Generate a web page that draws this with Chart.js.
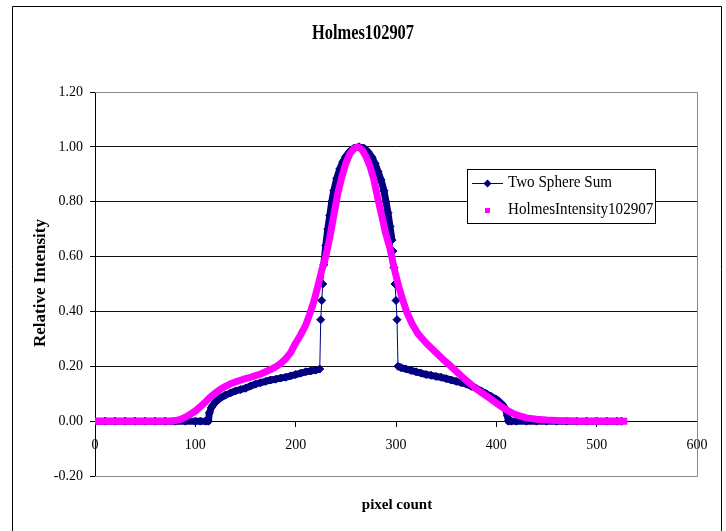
<!DOCTYPE html>
<html>
<head>
<meta charset="utf-8">
<title>Holmes102907</title>
<script src="https://cdn.jsdelivr.net/npm/chart.js@4.4.1/dist/chart.umd.min.js"></script>
<style>
    html, body { margin: 0; padding: 0; background: #fff; }
    #wrap { width: 726px; height: 531px; }
</style>
</head>
<body>
<div id="wrap"><canvas id="holmesChart" width="726" height="531"></canvas></div>
<script>
// values
const sumX = [0, 10, 20, 30, 40, 50, 60, 70, 80, 90, 100, 105, 110, 113, 114, 116, 118, 120, 125, 130,
    135, 140, 145, 150, 155, 160, 165, 170, 175, 180, 185, 190, 195, 200, 205, 210, 215, 220, 224, 225,
    226, 227, 228, 230, 232, 234, 236, 238, 241, 244, 247, 250, 254, 258, 263, 268, 272, 276, 279, 282,
    285, 288, 290, 292, 294, 296, 297, 298, 299, 300, 301, 302, 305, 310, 315, 320, 325, 330, 335, 340,
    345, 350, 355, 360, 365, 370, 375, 380, 385, 390, 395, 400, 403, 406, 409, 411, 412, 415, 420, 430,
    440, 450, 460, 470, 480, 490, 500, 510, 520, 525];
const sumY = [0, 0, 0, 0, 0, 0, 0, 0, 0, 0, 0, 0, 0, 0, 0.03, 0.05, 0.06, 0.07, 0.085, 0.095,
    0.103, 0.11, 0.115, 0.12, 0.128, 0.135, 0.14, 0.145, 0.15, 0.153, 0.157, 0.16, 0.165, 0.17, 0.175, 0.18, 0.183, 0.186, 0.19, 0.37,
    0.44, 0.50, 0.57, 0.64, 0.70, 0.75, 0.80, 0.84, 0.885, 0.92, 0.945, 0.965, 0.983, 0.995, 1.0, 0.995, 0.982, 0.962, 0.94, 0.91,
    0.88, 0.84, 0.80, 0.76, 0.71, 0.66, 0.62, 0.56, 0.50, 0.44, 0.37, 0.20, 0.195, 0.19, 0.185, 0.18, 0.175, 0.17, 0.167, 0.163,
    0.16, 0.155, 0.15, 0.145, 0.14, 0.135, 0.127, 0.12, 0.11, 0.10, 0.09, 0.08, 0.07, 0.06, 0.045, 0.02, 0, 0, 0, 0,
    0, 0, 0, 0, 0, 0, 0, 0, 0, 0];

const intX = [0, 10, 20, 30, 40, 50, 60, 70, 75, 80, 85, 90, 95, 100, 105, 110, 115, 120, 125, 130,
    135, 140, 145, 150, 155, 160, 165, 170, 175, 180, 185, 190, 195, 200, 205, 210, 214, 218, 222, 226,
    230, 234, 238, 242, 246, 250, 254, 258, 262, 266, 270, 274, 278, 282, 286, 290, 294, 298, 302, 306,
    311, 316, 322, 330, 339, 346, 354, 362, 370, 375, 380, 385, 390, 395, 400, 405, 410, 415, 420, 425,
    430, 440, 450, 460, 470, 480, 490, 500, 510, 520, 527];
const intY = [0, 0, 0, 0, 0, 0, 0, 0, 0, 0.002, 0.006, 0.014, 0.025, 0.037, 0.053, 0.07, 0.088, 0.103, 0.116, 0.127,
    0.136, 0.143, 0.149, 0.155, 0.16, 0.166, 0.172, 0.18, 0.188, 0.198, 0.21, 0.227, 0.25, 0.285, 0.315, 0.35, 0.39, 0.435, 0.49, 0.55,
    0.60, 0.67, 0.75, 0.83, 0.89, 0.94, 0.975, 0.993, 1.0, 0.99, 0.965, 0.93, 0.88, 0.81, 0.745, 0.68, 0.63, 0.56, 0.50, 0.45,
    0.395, 0.355, 0.318, 0.285, 0.253, 0.228, 0.202, 0.175, 0.148, 0.133, 0.118, 0.105, 0.092, 0.079, 0.066, 0.053, 0.041, 0.031, 0.023, 0.017,
    0.012, 0.007, 0.004, 0.002, 0.001, 0, 0, 0, 0, 0, 0];

const xTickValues = [0, 100, 200, 300, 400, 500, 600];
const yTickValues = [-0.2, 0, 0.2, 0.4, 0.6, 0.8, 1.0, 1.2];
const yTickLabels = ['-0.20', '0.00', '0.20', '0.40', '0.60', '0.80', '1.00', '1.20'];

const SERIF = "'Liberation Serif', 'Times New Roman', serif";
const NAVY = '#000080';
const PINK = '#FF00FF';

function text(ctx, str, x, y, font, sx = 1, rot = 0, align = 'center') {
    ctx.save();
    ctx.translate(x, y);
    if (rot) ctx.rotate(rot);
    ctx.scale(sx, 1);
    ctx.font = font;
    ctx.fillStyle = '#000';
    ctx.textAlign = align;
    ctx.textBaseline = 'middle';
    ctx.fillText(str, 0, 0);
    ctx.restore();
}

const framePlugin = {
    id: 'frame',
    beforeDraw(chart) {
        const c = chart.ctx;
        c.save();
        c.fillStyle = '#fff';
        c.fillRect(0, 0, chart.width, chart.height);
        c.strokeStyle = '#000';
        c.lineWidth = 1;
        c.beginPath();
        c.moveTo(12.5, 540);
        c.lineTo(12.5, 6.5);
        c.lineTo(721.5, 6.5);
        c.lineTo(721.5, 540);
        c.stroke();
        c.restore();
    },
    beforeDatasetsDraw(chart) {
        const { ctx: c, chartArea: a } = chart;
        c.save();
        c.strokeStyle = '#888';
        c.lineWidth = 1;
        c.beginPath();
        c.moveTo(a.left, a.top + 0.5);
        c.lineTo(a.right + 0.5, a.top + 0.5);
        c.lineTo(a.right + 0.5, a.bottom + 0.5);
        c.lineTo(a.left, a.bottom + 0.5);
        c.stroke();
        c.restore();
    },
    afterDraw(chart) {
        const c = chart.ctx;
        text(c, 'Holmes102907', 363, 34, 'bold 20px ' + SERIF, 0.82);
        text(c, 'Relative Intensity', 41, 283, 'bold 17px ' + SERIF, 1, -Math.PI / 2);
        text(c, 'pixel count', 397, 505, 'bold 15px ' + SERIF);

        // legend box
        const lx = 467, ly = 169, lw = 188, lh = 54;
        c.save();
        c.fillStyle = '#fff';
        c.fillRect(lx, ly, lw, lh);
        c.strokeStyle = '#000';
        c.lineWidth = 1;
        c.strokeRect(lx + 0.5, ly + 0.5, lw, lh);

        c.strokeStyle = NAVY;
        c.beginPath();
        c.moveTo(472, 183.5);
        c.lineTo(503, 183.5);
        c.stroke();
        c.fillStyle = NAVY;
        c.beginPath();
        c.moveTo(487.5, 179.5); c.lineTo(491.5, 183.5); c.lineTo(487.5, 187.5); c.lineTo(483.5, 183.5);
        c.closePath();
        c.fill();

        c.fillStyle = PINK;
        c.fillRect(485, 208, 5, 5);
        c.restore();

        text(c, 'Two Sphere Sum', 508, 183, '17px ' + SERIF, 0.89, 0, 'left');
        text(c, 'HolmesIntensity102907', 508, 210, '17px ' + SERIF, 0.89, 0, 'left');
    }
};

const ctx = document.getElementById('holmesChart').getContext('2d');
new Chart(ctx, {
    type: 'scatter',
    data: {
        datasets: [
            {
                label: 'Two Sphere Sum',
                data: sumX.map((x, i) => ({ x, y: sumY[i] })),
                showLine: true,
                borderColor: NAVY,
                backgroundColor: NAVY,
                pointBackgroundColor: NAVY,
                pointBorderColor: NAVY,
                pointStyle: 'rectRot',
                pointRadius: 4,
                borderWidth: 1,
                borderJoinStyle: 'round',
                segment: {
                    // steep jumps stay thin, the dense marker runs look like a thick band
                    borderWidth: s => {
                        const dx = Math.abs(s.p1.parsed.x - s.p0.parsed.x) || 1;
                        const dy = Math.abs(s.p1.parsed.y - s.p0.parsed.y);
                        return dy / dx > 0.04 ? 1 : 7;
                    }
                },
                order: 1
            },
            {
                label: 'HolmesIntensity102907',
                data: intX.map((x, i) => ({ x, y: intY[i] })),
                showLine: true,
                borderColor: PINK,
                backgroundColor: PINK,
                pointStyle: 'rect',
                pointRadius: 0,
                borderWidth: 7,
                borderJoinStyle: 'round',
                borderCapStyle: 'square',
                order: 0
            }
        ]
    },
    options: {
        responsive: false,
        animation: false,
        events: [],
        layout: { padding: { top: 92, right: 29, bottom: 55, left: 0 } },
        plugins: {
            legend: { display: false },
            title: { display: false },
            tooltip: { enabled: false }
        },
        scales: {
            x: {
                type: 'linear',
                position: { y: 0 },
                min: 0,
                max: 600,
                afterBuildTicks: scale => { scale.ticks = xTickValues.map(v => ({ value: v })); },
                grid: { drawOnChartArea: false, drawTicks: true, tickLength: 5, tickColor: '#000' },
                border: { display: true, color: '#000', width: 1 },
                ticks: {
                    color: '#000',
                    padding: 11,
                    maxRotation: 0,
                    font: { family: SERIF, size: 14 },
                    callback: v => String(v)
                }
            },
            y: {
                type: 'linear',
                position: 'left',
                min: -0.2,
                max: 1.2,
                afterFit: scale => { scale.width = 95; },
                afterBuildTicks: scale => { scale.ticks = yTickValues.map(v => ({ value: v })); },
                grid: {
                    color: c => (c.index === 0 || c.index === yTickValues.length - 1) ? '#888' : '#111',
                    tickColor: '#000',
                    tickLength: 5,
                    drawTicks: true
                },
                border: { display: true, color: '#000', width: 1 },
                ticks: {
                    color: '#000',
                    padding: 7,
                    font: { family: SERIF, size: 14 },
                    callback: (v, i) => yTickLabels[i]
                }
            }
        }
    },
    plugins: [framePlugin]
});
</script>
</body>
</html>
